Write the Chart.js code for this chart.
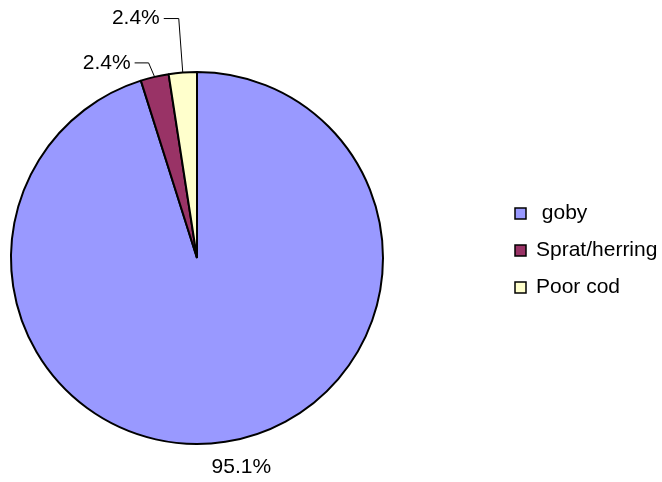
<!DOCTYPE html>
<html>
<head>
<meta charset="utf-8">
<script src="https://cdn.jsdelivr.net/npm/chart.js@4"></script>
<style>
  html, body { margin: 0; padding: 0; background: #fff; }
  #wrap { width: 662px; height: 482px; }
</style>
</head>
<body>
<div id="wrap"><canvas id="pieChart" width="662" height="482"></canvas></div>
<script>
// prey categories and counts (95.1% / 2.4% / 2.4%)
const categories = [' goby', 'Sprat/herring', 'Poor cod'];
const counts = [39, 1, 1];
const sliceColors = ['#9999FF', '#993366', '#FFFFCC'];

// where each percentage label sits relative to its slice edge point
const labelOffsets = [
    { dx: 16, dy: 25, elbow: null },
    { dx: -35, dy: -14, elbow: { dx: -6, dy: -14 } },
    { dx: -34, dy: -54, elbow: { dx: -4, dy: -54 } }
];

const FONT = '21px "Liberation Sans", Arial, sans-serif';

const labelPlugin = {
    id: 'pieLabels',
    afterDraw(chart) {
        const ctx = chart.ctx;
        const meta = chart.getDatasetMeta(0);
        const data = chart.data.datasets[0].data;
        const total = data.reduce((a, b) => a + b, 0);

        ctx.save();
        ctx.font = FONT;
        ctx.fillStyle = '#000';
        ctx.strokeStyle = '#000';
        ctx.lineWidth = 1;

        meta.data.forEach((arc, i) => {
            const mid = (arc.startAngle + arc.endAngle) / 2;
            const ax = arc.x + Math.cos(mid) * arc.outerRadius;
            const ay = arc.y + Math.sin(mid) * arc.outerRadius;
            const off = labelOffsets[i];
            const text = (data[i] / total * 100).toFixed(1) + '%';
            const tx = ax + off.dx;
            const ty = ay + off.dy;

            if (off.elbow) {
                const ex = ax + off.elbow.dx;
                const ey = ay + off.elbow.dy;
                ctx.beginPath();
                ctx.moveTo(ax, ay);
                ctx.lineTo(ex, ey);
                ctx.lineTo(tx + 15, ey);
                ctx.stroke();
                ctx.textAlign = 'right';
                ctx.textBaseline = 'middle';
                ctx.fillText(text, tx + 11, ty);
            } else {
                ctx.textAlign = 'center';
                ctx.textBaseline = 'middle';
                ctx.fillText(text, tx, ty);
            }
        });

        // legend
        const lx = 515, ly = 213, step = 37;
        categories.forEach((name, i) => {
            const y = ly + i * step;
            ctx.fillStyle = sliceColors[i];
            ctx.fillRect(lx, y - 5, 11, 11);
            ctx.lineWidth = 1.5;
            ctx.strokeStyle = '#000';
            ctx.strokeRect(lx, y - 5, 11, 11);
            ctx.fillStyle = '#000';
            ctx.textAlign = 'left';
            ctx.textBaseline = 'middle';
            ctx.fillText(name, lx + 21, y);
        });
        ctx.restore();
    }
};

new Chart(document.getElementById('pieChart').getContext('2d'), {
    type: 'pie',
    data: {
        labels: categories,
        datasets: [{
            data: counts,
            backgroundColor: sliceColors,
            borderColor: '#000',
            borderWidth: 2
        }]
    },
    options: {
        responsive: false,
        animation: false,
        layout: { padding: { left: 10, top: 71, right: 278, bottom: 37 } },
        plugins: {
            legend: { display: false },
            tooltip: { enabled: false }
        }
    },
    plugins: [labelPlugin]
});
</script>
</body>
</html>
